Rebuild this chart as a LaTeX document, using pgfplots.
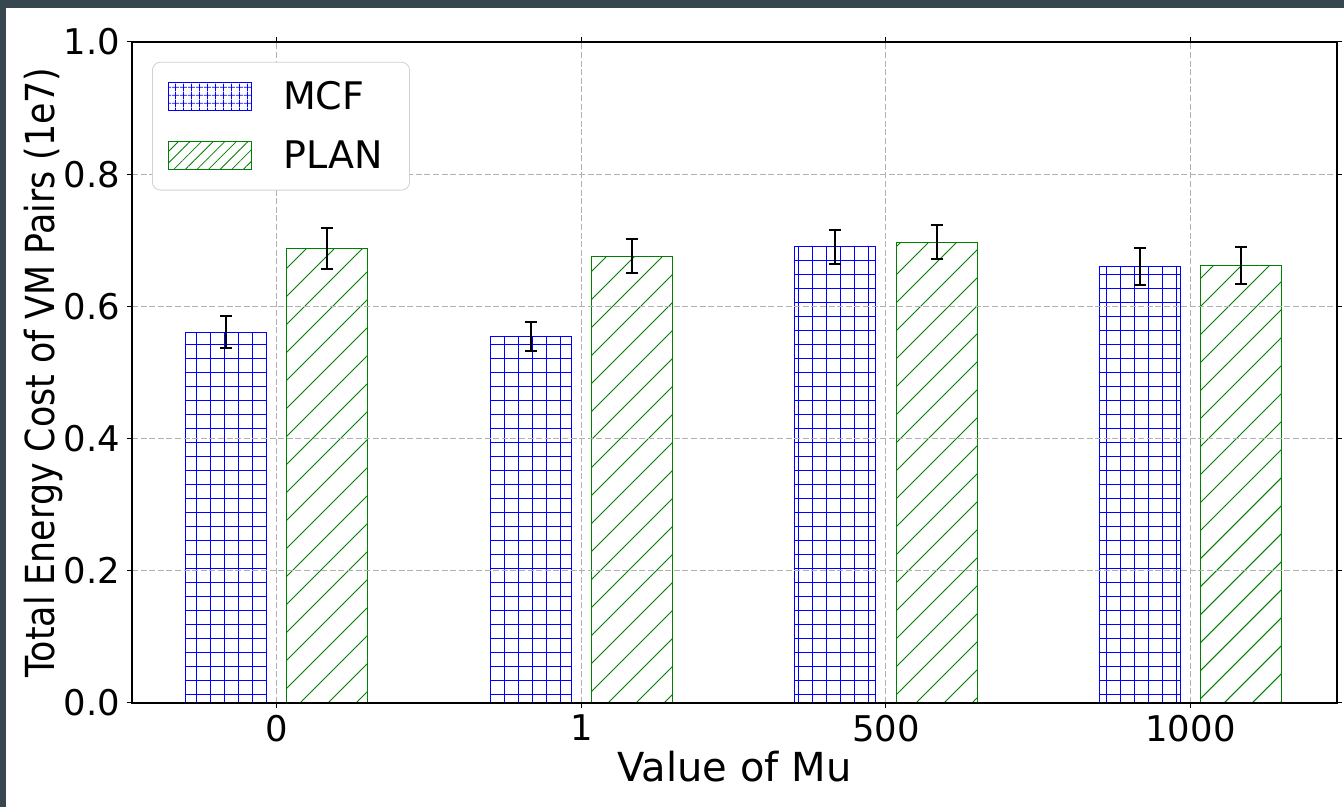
\documentclass[border=0pt]{standalone}
\usepackage{pgfplots}
\pgfplotsset{compat=1.18}
\usetikzlibrary{patterns.meta}
\usepackage{fontspec}
\setmainfont{DejaVu Sans}
\definecolor{bgdark}{HTML}{37474F}
\definecolor{mplgreen}{HTML}{008000}
\definecolor{gridgray}{HTML}{B0B0B0}
\pgfplotsset{
  mcflegend/.style={legend image code/.code={\draw[##1, sharp corners, pattern={Hatch[angle=0,distance=4pt,line width=0.4pt]}, pattern color=blue] (0pt,-7pt) rectangle (41.5pt,7pt);}},
  planlegend/.style={legend image code/.code={\draw[##1, sharp corners, pattern={Lines[angle=45,distance=4.1pt,line width=0.4pt]}, pattern color=mplgreen] (0pt,-7pt) rectangle (41.5pt,7pt);}},
}
% x positions: category index -/+ 0.1665 (bar centres)
\pgfplotstableread{
x       y      e
-0.1665 0.561  0.024
0.8335  0.554  0.022
1.8335  0.690  0.026
2.8335  0.661  0.028
}\mcfdata
\pgfplotstableread{
x       y      e
0.1665  0.687  0.031
1.1665  0.676  0.026
2.1665  0.697  0.026
3.1665  0.662  0.028
}\plandata
\begin{document}
\begin{tikzpicture}
\fill[bgdark] (0,0) rectangle (672pt,403.5pt);
\fill[white] (3pt,0) rectangle (672pt,399.5pt);
\begin{axis}[
  at={(66pt,52pt)}, anchor=south west, scale only axis,
  width=602.5pt, height=330.5pt,
  xmin=-0.475, xmax=3.481, ymin=0, ymax=1,
  xtick={0,1,2,3}, xticklabels={0,1,500,1000},
  ytick={0,0.2,0.4,0.6,0.8,1.0},
  yticklabel style={/pgf/number format/fixed, /pgf/number format/fixed zerofill, /pgf/number format/precision=1},
  /pgf/number format/assume math mode=true,
  tick label style={font=\fontsize{17.7}{20}\selectfont, black},
  label style={font=\fontsize{20}{24}\selectfont},
  xlabel={Value of Mu},
  ylabel={\scalebox{0.87}[1]{Total Energy Cost of VM Pairs (1e7)}},
  xlabel style={yshift=2pt},
  ylabel style={yshift=-6.5pt},
  grid=major,
  grid style={gridgray, dash pattern=on 3pt off 1.3pt, line width=0.5pt},
  axis on top,
  tick align=outside, major tick length=2.5pt,
  tick style={black, line width=0.5pt},
  axis line style={line width=0.6pt, black},
  legend style={at={(0.0166,0.97)}, anchor=north west, draw=black!18, rounded corners=4pt,
    font=\fontsize{19}{22}\selectfont, inner xsep=8pt, inner ysep=8pt, row sep=11pt,
    nodes={inner sep=1.5pt},
    /tikz/every odd column/.append style={column sep=14pt}},
  legend cell align=left,
]
\addplot[ybar, bar width=0.266, bar shift=0, draw=blue, line width=0.5pt,
  pattern={Hatch[angle=0,distance=7pt,line width=0.5pt]}, pattern color=blue,
  mcflegend,
  error bars/.cd, y dir=both, y explicit,
  error bar style={black, line width=1pt},
  error mark options={black, line width=1pt, mark size=3pt, rotate=90}]
table[x=x, y=y, y error=e] {\mcfdata};
\addlegendentry{MCF}
\addplot[ybar, bar width=0.266, bar shift=0, draw=mplgreen, line width=0.5pt,
  pattern={Lines[angle=45,distance=9.9pt,line width=0.5pt]}, pattern color=mplgreen,
  planlegend,
  error bars/.cd, y dir=both, y explicit,
  error bar style={black, line width=1pt},
  error mark options={black, line width=1pt, mark size=3pt, rotate=90}]
table[x=x, y=y, y error=e] {\plandata};
\addlegendentry{PLAN\kern4pt}
\end{axis}
\end{tikzpicture}
\end{document}
